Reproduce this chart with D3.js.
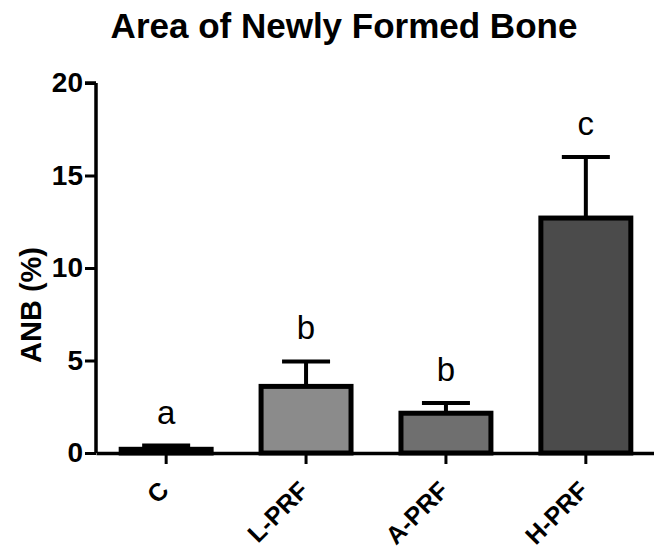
<!DOCTYPE html>
<html><head><meta charset="utf-8">
<script src="https://cdn.jsdelivr.net/npm/d3@7/dist/d3.min.js"></script>
<style>html,body{margin:0;padding:0;background:#fff;}svg{display:block;}</style>
</head><body>
<svg id="chart" width="654" height="554"></svg>
<script>
const categories = ["C", "L-PRF", "A-PRF", "H-PRF"];
const means = [0.2, 3.6, 2.15, 12.7];
const errors = [0.2, 1.35, 0.55, 3.3];
const letters = ["a", "b", "b", "c"];
const fills = ["#111111", "#8b8b8b", "#6f6f6f", "#4b4b4b"];
const yTicks = [0, 5, 10, 15, 20];
const title = "Area of Newly Formed Bone";
const yLabel = "ANB (%)";

const svg = d3.select("#chart");
const font = "Arial, 'Liberation Sans', Helvetica, sans-serif";
const x0 = 96, x1 = 656, yTop = 83, yBot = 453;

const x = d3.scaleBand().domain(categories).range([x0, x1]).paddingInner(0.357).paddingOuter(0.18);
const y = d3.scaleLinear().domain([0, 20]).range([yBot, yTop]);

// title
svg.append("text").attr("x", 344).attr("y", 38).attr("text-anchor", "middle")
  .attr("font-family", font).attr("font-weight", "bold").attr("font-size", 35)
  .text(title);

// y label
svg.append("text").attr("transform", `translate(41,${(yTop + yBot) / 2 + 37}) rotate(-90)`)
  .attr("text-anchor", "middle").attr("font-family", font).attr("font-weight", "bold")
  .attr("font-size", 29).text(yLabel);

const data = categories.map((c, i) => ({c, m: means[i], e: errors[i], l: letters[i], f: fills[i]}));

// error bars (behind bars)
const eb = svg.append("g").attr("stroke", "#000").attr("stroke-width", 4);
data.forEach(d => {
  const cx = x(d.c) + x.bandwidth() / 2;
  eb.append("line").attr("x1", cx).attr("x2", cx).attr("y1", y(d.m)).attr("y2", y(d.m + d.e));
  eb.append("line").attr("x1", cx - 24).attr("x2", cx + 24).attr("y1", y(d.m + d.e)).attr("y2", y(d.m + d.e));
});

// bars
svg.append("g").selectAll("rect").data(data).join("rect")
  .attr("x", d => x(d.c)).attr("width", x.bandwidth())
  .attr("y", d => y(d.m)).attr("height", d => y(0) - y(d.m))
  .attr("fill", d => d.f).attr("stroke", "#000").attr("stroke-width", 5);

// letters
svg.append("g").selectAll("text").data(data).join("text")
  .attr("x", d => x(d.c) + x.bandwidth() / 2).attr("y", d => y(d.m + d.e) - 22)
  .attr("text-anchor", "middle").attr("font-family", font).attr("font-size", 33)
  .text(d => d.l);

// y axis
const yAxis = svg.append("g").attr("transform", `translate(${x0},0)`)
  .call(d3.axisLeft(y).tickValues(yTicks).tickSize(11).tickPadding(2));
yAxis.select(".domain").attr("d", `M0,${yTop}H-11M0,${yTop}V${yBot}`).attr("stroke-width", 3.5);
yAxis.selectAll(".tick line").attr("stroke-width", 3);
yAxis.selectAll(".tick text").attr("font-family", font).attr("font-weight", "bold").attr("font-size", 28).attr("fill", "#000");

// x axis
const xAxis = svg.append("g").attr("transform", `translate(0,${yBot})`)
  .call(d3.axisBottom(x).tickSize(11).tickSizeOuter(0));
xAxis.select(".domain").attr("stroke-width", 3.5);
xAxis.selectAll(".tick line").attr("stroke-width", 3);
xAxis.selectAll(".tick text").attr("font-family", font).attr("font-weight", "bold").attr("font-size", 25).attr("fill", "#000")
  .attr("text-anchor", "end").attr("dy", null).attr("y", 0)
  .attr("transform", "translate(4,39) rotate(-45)");
</script>
</body></html>
